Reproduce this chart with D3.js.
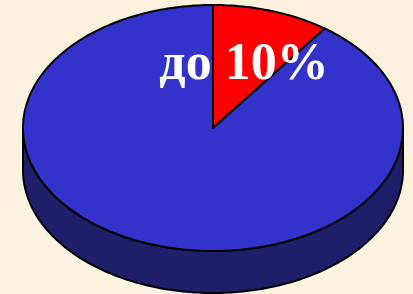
<!DOCTYPE html>
<html>
<head>
<meta charset="utf-8">
<script src="https://cdn.jsdelivr.net/npm/d3@7"></script>
<style>
  body { margin: 0; overflow: hidden; }
</style>
</head>
<body>
<div id="chart"></div>
<script>
// chart data
var labels = ["до 10%", ""];
var values = [10, 90];
var topColors = ["#FF0000", "#3333CC"];
var sideColors = ["#8a0000", "#1E1E6B"];

var width = 413, height = 294;
var cx = 213, cy = 128, rx = 190, ry = 123, depth = 42;

var svg = d3.select("#chart").append("svg")
    .attr("width", width)
    .attr("height", height)
    .attr("xmlns", "http://www.w3.org/2000/svg");

var grad = svg.append("defs").append("linearGradient")
    .attr("id", "bg")
    .attr("x1", "0%").attr("y1", "0%")
    .attr("x2", "0%").attr("y2", "100%");
grad.append("stop").attr("offset", "0%").attr("stop-color", "#FCF1DD");
grad.append("stop").attr("offset", "100%").attr("stop-color", "#FDF3E1");

svg.append("rect")
    .attr("width", width)
    .attr("height", height)
    .style("fill", "url(#bg)");

var pie = d3.pie().sort(null).value(function(d) { return d; });
var arcs = pie(values);

// point on ellipse, angle clockwise from top like d3.arc
function pt(a, dy) {
    return [cx + rx * Math.sin(a), cy - ry * Math.cos(a) + (dy || 0)];
}

function arcPoints(a0, a1, dy) {
    var n = Math.max(2, Math.ceil((a1 - a0) / 0.02));
    return d3.range(n + 1).map(function(i) {
        return pt(a0 + (a1 - a0) * i / n, dy);
    });
}

var line = d3.line();

// sides: only the front half (PI/2 .. 3PI/2) shows
arcs.forEach(function(d, i) {
    var a0 = Math.max(d.startAngle, Math.PI / 2);
    var a1 = Math.min(d.endAngle, Math.PI * 3 / 2);
    if (a1 <= a0) return;
    var top = arcPoints(a0, a1, 0);
    var bottom = arcPoints(a0, a1, depth).reverse();
    svg.append("path")
        .attr("d", line(top.concat(bottom)) + "Z")
        .style("fill", sideColors[i])
        .style("stroke", "#000")
        .style("stroke-width", 2)
        .style("stroke-linejoin", "round");
});

// top faces
arcs.forEach(function(d, i) {
    var pts = [[cx, cy]].concat(arcPoints(d.startAngle, d.endAngle, 0));
    svg.append("path")
        .attr("d", line(pts) + "Z")
        .style("fill", topColors[i])
        .style("stroke", "#000")
        .style("stroke-width", 2)
        .style("stroke-linejoin", "round");
});

// label
svg.append("text")
    .attr("x", 244)
    .attr("y", 79)
    .attr("text-anchor", "middle")
    .style("font-family", "'Times New Roman', 'Liberation Serif', serif")
    .style("font-weight", "bold")
    .style("font-size", "52px")
    .style("fill", "#fff")
    .text(labels[0]);
</script>
</body>
</html>
